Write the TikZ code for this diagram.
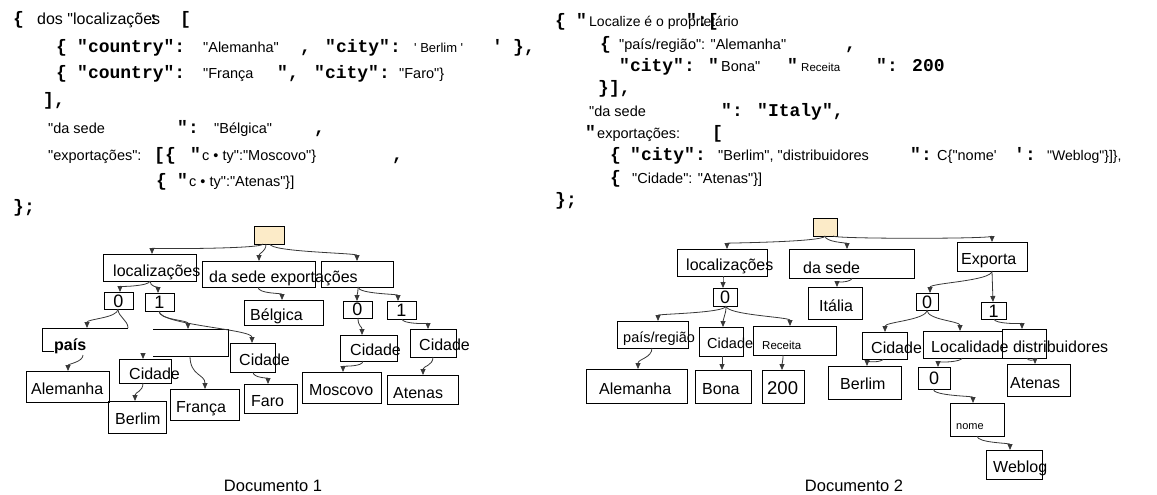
\documentclass[tikz,border=0pt]{standalone}
\usepackage{fontspec}
\setmainfont{Liberation Sans}[Ligatures=TeXOff]
\newfontfamily\cour{Liberation Mono}[Ligatures=TeXOff]
\usetikzlibrary{arrows.meta}
\definecolor{beige}{RGB}{252,235,200}
\newcommand\bx[6][]{\node[bxs,#1, minimum width={(#5-#3)*1pt}, minimum height={(#6-#4)*1pt}] (#2) at ({(#3+#5)/2},{(#4+#6)/2}) {};}
\tikzset{
  cb/.style={font=\cour\bfseries\fontsize{18}{18}\selectfont, anchor=base west, inner sep=0pt},
  ar/.style={font=\fontsize{14.5}{14.5}\selectfont, anchor=base west, inner sep=0pt},
  tt/.style={font=\fontsize{16}{16}\selectfont, anchor=base west, inner sep=0pt},
  dg/.style={font=\fontsize{18}{18}\selectfont, anchor=base, inner sep=0pt},
  bxs/.style={draw, line width=0.9pt, inner sep=0pt, outer sep=0pt},
  conn/.style={draw=black!78, line width=0.8pt, -{Triangle[length=6pt,width=5pt]}},
  connl/.style={draw=black!78, line width=0.8pt},
  doclabel/.style={font=\fontsize{16.5}{16.5}\selectfont, anchor=base, inner sep=0pt}
}
\begin{document}
\begin{tikzpicture}[x=1pt,y=-1pt]
\useasboundingbox[fill=white] (0,0) rectangle (1157,495);

% ---------------- Document 1 code ----------------
\node[cb] (p1) at (13,25) {\{};
\node[ar, font=\fontsize{16}{16}\selectfont] (p2) at (37,25) {dos "localizações};
\node[cb] (p3) at (148,25) {:};
\node[cb] (p4) at (180,25) {[};

\node[cb] (q1) at (56,53) {\{};
\node[cb] (q2) at (77,53) {"country":};
\node[ar] (q3) at (203,53) {"Alemanha"};
\node[cb] (q4) at (300,53) {,};
\node[cb] (q5) at (325,53) {"city":};
\node[ar, font=\fontsize{13}{13}\selectfont] (q6) at (414,53) {' Berlim '};
\node[cb] (q7) at (492,53) {'};
\node[cb] (q8) at (513,53) {\},};

\node[cb] (r1) at (56,78) {\{};
\node[cb] (r2) at (77,78) {"country":};
\node[ar] (r3) at (203,78) {"França};
\node[cb] (r4) at (277,78) {",};
\node[cb] (r5) at (314,78) {"city":};
\node[ar] (r6) at (399,78) {"Faro"\}};

\node[cb] (s1) at (43,106) {],};

\node[ar] (u1) at (48,133) {"da sede};
\node[cb] (u2) at (177,133) {":};
\node[ar] (u3) at (214,133) {"Bélgica"};
\node[cb] (u4) at (314,133) {,};

\node[ar] (v1) at (48,160) {"exportações":};
\node[cb] (v2) at (154,160) {[\{};
\node[cb] (v3) at (190,160) {"};
\node[ar] (v4) at (202,160) {c • ty":"Moscovo"\}};
\node[cb] (v5) at (392,160) {,};

\node[cb] (w1) at (156,186) {\{};
\node[cb] (w2) at (177,186) {"};
\node[ar] (w3) at (189,186) {c • ty":"Atenas"\}]};

\node[cb] (x1) at (13,212) {\};};

% ---------------- Document 2 code ----------------
\node[cb] (A1) at (555,27) {\{};
\node[cb] (A2) at (576,27) {"};
\node[ar, font=\fontsize{14}{14}\selectfont] (A3) at (589,27) {Localize é o proprietário};
\node[cb] (A4) at (686,27) {":[};

\node[cb] (B1) at (600,50) {\{};
\node[ar] (B2) at (619,50) {"país/região": "Alemanha"};
\node[cb] (B3) at (845,50) {,};

\node[cb] (C1) at (619,71) {"city":};
\node[cb] (C2) at (708,71) {"};
\node[ar] (C3) at (721,71) {Bona"};
\node[cb] (C4) at (787,71) {"};
\node[ar, font=\fontsize{11.5}{11.5}\selectfont] (C5) at (801,71) {Receita};
\node[cb] (C6) at (876,71) {": 200};

\node[cb] (D1) at (598,94) {\}],};

\node[ar] (E1) at (589,117) {"da sede};
\node[cb] (E2) at (721,117) {": "Italy",};

\node[cb] (F1) at (585,138) {"};
\node[ar] (F2) at (597,138) {exportações:};
\node[cb] (F3) at (712,138) {[};

\node[cb] (G1) at (610,160) {\{};
\node[cb] (G2) at (630,160) {"city":};
\node[ar] (G3) at (718,160) {"Berlim", "distribuidores};
\node[cb] (G4) at (910,160) {":};
\node[ar] (G5) at (937,160) {C\{"nome'};
\node[cb] (G6) at (1014,160) {':};
\node[ar, font=\fontsize{14}{14}\selectfont] (G7) at (1047,160) {"Weblog"\}]\},};

\node[cb] (H1) at (610,183) {\{};
\node[ar] (H2) at (632,183) {"Cidade": "Atenas"\}]};

\node[cb] (I1) at (555,205) {\};};

% ---------------- Document 1 tree ----------------
\bx[fill=beige]{root1}{254}{226}{284}{244}
\bx{loc1}{103}{254}{196}{281}
\bx{sede1}{202}{261}{315}{287}
\bx{expo1}{321}{261}{393}{287}
\bx{zero1a}{104}{292}{133}{309}
\bx{one1a}{145}{293}{174}{311}
\bx{belg}{244}{300}{323}{325}
\bx{zero1b}{343}{301}{372}{318}
\bx{one1b}{387}{301}{416}{319}
\bx[draw=none]{pais}{42}{328}{128}{351}
\draw[line width=0.9pt] (pais.north east) -- (pais.north west) -- (pais.south west) -- ([xshift=12pt]pais.south west);
\bx[draw=none]{big2}{153}{329}{228}{356}
\draw[line width=0.9pt] (big2.north west) -- (big2.north east) -- (big2.south east) -- (big2.south west);
\bx{cid1a}{119}{359}{171}{383}
\bx{cid1b}{230}{343}{275}{372}
\bx{alem1}{26}{371}{109}{402}
\bx{berl1}{108}{401}{166}{433}
\bx{fran}{170}{389}{239}{420}
\bx{faro}{244}{384}{297}{413}
\bx{cid1c}{340}{335}{397}{361}
\bx{cid1d}{410}{329}{456}{357}
\bx{mosc}{302}{372}{381}{403}
\bx{aten1}{387}{375}{458}{404}

\node[tt] (T1) at (113,276) {localizações};
\node[tt] (T2) at (209,282) {da sede exportações};
\node[dg] (T3) at (118.5,307) {0};
\node[dg] (T4) at (159.5,308) {1};
\node[tt] (T5) at (250,320) {Bélgica};
\node[dg] (T6) at (357.5,315) {0};
\node[dg] (T7) at (401.5,316) {1};
\node[tt, font=\bfseries\fontsize{16}{16}\selectfont] (T8) at (54,350) {país};
\node[tt] (T9) at (129,379) {Cidade};
\node[tt] (T10) at (239,365) {Cidade};
\node[tt] (T11) at (31,394) {Alemanha};
\node[tt] (T12) at (115,424) {Berlim};
\node[tt] (T13) at (176,412) {França};
\node[tt] (T14) at (251,406) {Faro};
\node[tt] (T15) at (350,355) {Cidade};
\node[tt] (T16) at (419,350) {Cidade};
\node[tt] (T17) at (309,395) {Moscovo};
\node[tt] (T18) at (393,398) {Atenas};
\node[doclabel] (T19) at (273,491) {Documento 1};

\draw[conn] ([xshift=-6pt]root1.south) .. controls +(0,5) and +(0,-5) .. ([xshift=2.5pt]loc1.north);
\draw[conn] ([xshift=-3pt]root1.south) .. controls +(0,8) and +(0,-8) .. ([xshift=0.5pt]sede1.north);
\draw[conn] ([xshift=1pt]root1.south) .. controls +(0,8) and +(0,-8) .. (expo1.north);
\draw[conn] ([xshift=0.5pt]loc1.south) .. controls +(0,5) and +(0,-5) .. ([xshift=1.5pt]zero1a.north);
\draw[conn] ([xshift=0.5pt]loc1.south) .. controls +(0,6) and +(0,-6) .. ([xshift=-1.5pt]one1a.north);
\draw[conn] ([xshift=-0.5pt]zero1a.south) .. controls +(0,9) and +(0,-9) .. ([xshift=2pt]pais.north);
\draw[connl] ([xshift=-0.5pt]zero1a.south) .. controls +(0,8) and +(0,-8) .. (pais.north east);
\draw[conn] ([xshift=-0.5pt]one1a.south) .. controls +(0,9) and +(0,-9) .. ([xshift=-2.5pt]big2.north);
\draw[conn] ([xshift=-0.5pt]one1a.south) .. controls +(0,14) and +(0,-14) .. ([xshift=-0.5pt]cid1b.north);
\draw[conn] ([xshift=-2pt,yshift=-4pt]pais.south) .. controls +(0,7) and +(0,-7) .. ([xshift=0.5pt]alem1.north);
\draw[conn] ([xshift=-2pt,yshift=5pt]cid1a.north) -- ([xshift=-2pt]cid1a.north);
\draw[conn] ([xshift=-2pt]cid1a.south) .. controls +(0,9) and +(0,-9) .. ([xshift=-2pt]berl1.north);
\draw[conn] ([xshift=-0.5pt]big2.south) .. controls +(0,20) and +(0,-15) .. ([xshift=0.5pt]fran.north);
\draw[conn] ([xshift=0.5pt]cid1b.south) .. controls +(0,6) and +(0,-6) .. ([xshift=-2.5pt]faro.north);
\draw[conn] ([xshift=-0.5pt]sede1.south) .. controls +(0,7) and +(0,-7) .. ([xshift=-1.5pt]belg.north);
\draw[conn] ([xshift=1pt]expo1.south) .. controls +(0,7) and +(0,-7) .. ([xshift=-0.5pt]zero1b.north);
\draw[conn] ([xshift=1pt]expo1.south) .. controls +(0,7) and +(0,-7) .. ([xshift=-3.5pt]one1b.north);
\draw[conn] ([xshift=0.5pt]zero1b.south) .. controls +(0,9) and +(0,-9) .. ([xshift=-6.5pt]cid1c.north);
\draw[conn] ([xshift=0.5pt]one1b.south) .. controls +(0,5) and +(0,-5) .. ([xshift=-5pt]cid1d.north);
\draw[conn] ([xshift=-5.5pt]cid1c.south) .. controls +(0,6) and +(0,-6) .. ([xshift=1.5pt]mosc.north);
\draw[conn] (cid1d.south) .. controls +(0,9) and +(0,-9) .. ([xshift=0.5pt]aten1.north);

% ---------------- Document 2 tree ----------------
\bx[fill=beige]{root2}{813}{218}{837}{236}
\bx{loc2}{677}{249}{767}{276}
\bx{sede2}{789}{249}{914}{278}
\bx{expo}{957}{242}{1027}{271}
\bx{z2a}{713}{288}{737}{306}
\bx{ital}{808}{287}{862}{319}
\bx{pais2}{617}{321}{688}{348}
\bx{cid2a}{699}{327}{743}{356}
\bx{rec2}{753}{326}{836}{355}
\bx{alem2}{586}{369}{687}{403}
\bx{bona}{695}{370}{751}{403}
\bx{n200}{762}{370}{804}{403}
\bx{z2b}{916}{293}{938}{310}
\bx{one2}{981}{302}{1006}{319}
\bx{cid2b}{862}{332}{907}{359}
\bx{loc2b}{923}{331}{1002}{358}
\bx{distr}{1002}{329}{1046}{358}
\bx{berl2}{828}{366}{901}{399}
\bx{z2c}{918}{367}{950}{389}
\bx{aten2}{1007}{364}{1070}{396}
\bx{nome}{950}{403}{1004}{436}
\bx{webl}{986}{450}{1042}{479}

\node[tt] (S1) at (686,270) {localizações};
\node[tt] (S2) at (803,273) {da sede};
\node[tt] (S3) at (961,264) {Exporta};
\node[dg] (S4) at (725,303) {0};
\node[tt] (S5) at (819,311) {Itália};
\node[tt, font=\fontsize{14.5}{14.5}\selectfont] (S6) at (623,342) {país/região};
\node[tt, font=\fontsize{14.5}{14.5}\selectfont] (S7) at (707,348) {Cidade};
\node[tt, font=\fontsize{11.5}{11.5}\selectfont] (S8) at (762,349) {Receita};
\node[tt] (S9) at (599,394) {Alemanha};
\node[tt] (S10) at (702,394) {Bona};
\node[tt, font=\fontsize{18.5}{18.5}\selectfont] (S11) at (767,394) {200};
\node[dg] (S12) at (927,308) {0};
\node[dg] (S13) at (993.5,317) {1};
\node[tt] (S14) at (871,353) {Cidade};
\node[tt] (S15) at (931,352) {Localidade distribuidores};
\node[tt] (S16) at (840,389) {Berlim};
\node[dg] (S17) at (934,384) {0};
\node[tt] (S18) at (1010,388) {Atenas};
\node[tt, font=\fontsize{11}{11}\selectfont] (S19) at (956,429) {nome};
\node[tt] (S20) at (993,472) {Weblog};
\node[doclabel] (S21) at (854,491) {Documento 2};

\draw[conn] (root2.south) .. controls +(0,6) and +(0,-6) .. ([xshift=5pt]loc2.north);
\draw[conn] (root2.south) .. controls +(0,6) and +(0,-6) .. ([xshift=-4.5pt]sede2.north);
\draw[conn] ([xshift=8pt]root2.south) .. controls +(0,3) and +(0,-3) .. (expo.north);
\draw[conn] ([xshift=1pt]loc2.south) .. controls +(0,5) and +(0,-5) .. ([xshift=-2pt]z2a.north);
\draw[conn] ([xshift=1pt]z2a.south) .. controls +(0,7) and +(0,-7) .. ([xshift=5.5pt]pais2.north);
\draw[conn] ([xshift=1pt]z2a.south) .. controls +(0,10) and +(0,-10) .. ([xshift=2pt]cid2a.north);
\draw[conn] ([xshift=1pt]z2a.south) .. controls +(0,9) and +(0,-9) .. ([xshift=-4.5pt]rec2.north);
\draw[conn] ([xshift=-0.5pt]pais2.south) .. controls +(0,10) and +(0,-10) .. ([xshift=1.5pt]alem2.north);
\draw[conn] ([xshift=1pt]cid2a.south) -- ([xshift=-1pt]bona.north);
\draw[conn] ([xshift=-11.5pt]rec2.south) .. controls +(0,7) and +(0,-7) .. ([xshift=-1pt]n200.north);
\draw[conn] ([xshift=0.5pt]sede2.south) .. controls +(0,4) and +(0,-4) .. ([xshift=2pt]ital.north);
\draw[conn] (expo.south) .. controls +(0,10) and +(0,-10) .. ([xshift=3pt]z2b.north);
\draw[conn] (expo.south) -- ([xshift=-0.5pt]one2.north);
\draw[conn] (z2b.south) .. controls +(0,10) and +(0,-10) .. ([xshift=0.5pt]cid2b.north);
\draw[conn] (z2b.south) .. controls +(0,10) and +(0,-10) .. ([xshift=-2.5pt]loc2b.north);
\draw[conn] ([xshift=0.5pt]one2.south) .. controls +(0,5) and +(0,-5) .. ([xshift=-2pt]distr.north);
\draw[conn] ([xshift=-1.5pt]cid2b.south) .. controls +(0,3) and +(0,-3) .. ([xshift=2.5pt]berl2.north);
\draw[conn] ([xshift=-0.5pt]loc2b.south) .. controls +(0,4) and +(0,-4) .. ([xshift=4pt]z2c.north);
\draw[conn] ([xshift=3pt]distr.south) .. controls +(0,3) and +(0,-3) .. ([xshift=-3.5pt]aten2.north);
\draw[conn] ([xshift=-1pt]z2c.south) .. controls +(0,7) and +(0,-7) .. ([xshift=-4pt]nome.north);
\draw[conn] (nome.south) .. controls +(0,7) and +(0,-7) .. ([xshift=-4pt]webl.north);
\end{tikzpicture}
\end{document}
